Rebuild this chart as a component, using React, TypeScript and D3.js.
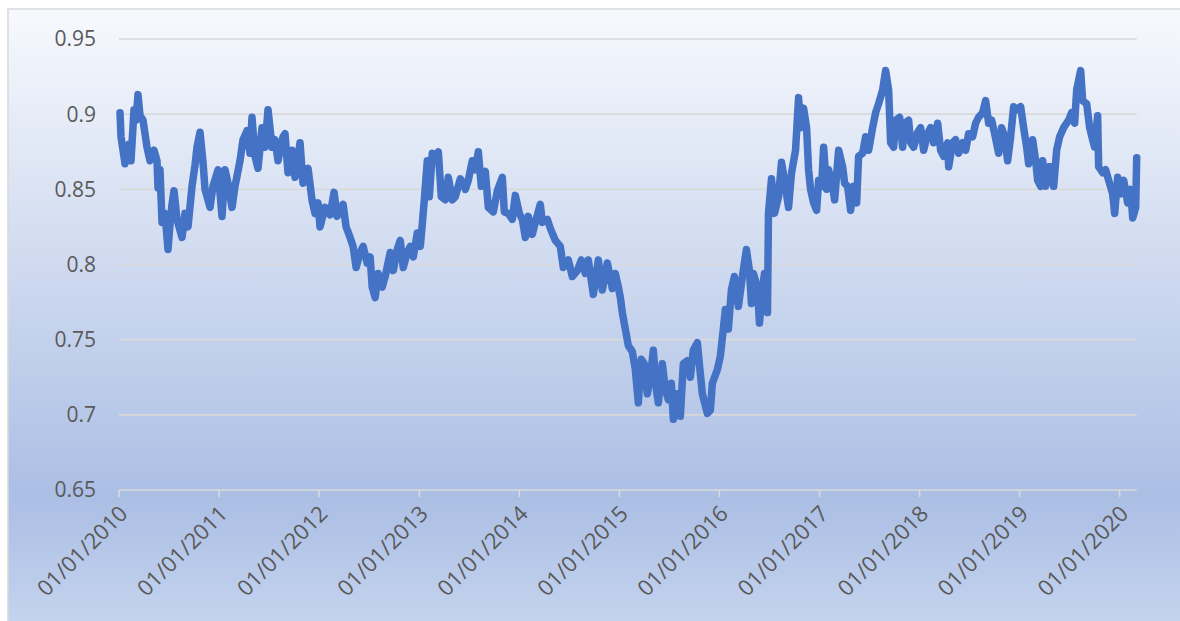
import React from "react";
import * as d3 from "d3";

// Observations: [decimal year, value]
const series: [number, number][] = [
  [2010.01, 0.901], [2010.02, 0.885], [2010.06, 0.867], [2010.1, 0.88], [2010.12, 0.869],
  [2010.15, 0.903], [2010.17, 0.896], [2010.19, 0.913], [2010.21, 0.899], [2010.24, 0.896],
  [2010.28, 0.878], [2010.31, 0.869], [2010.35, 0.876], [2010.38, 0.869], [2010.39, 0.851],
  [2010.41, 0.863], [2010.43, 0.828], [2010.46, 0.834], [2010.49, 0.81], [2010.51, 0.827],
  [2010.53, 0.84], [2010.55, 0.849], [2010.58, 0.83], [2010.63, 0.818], [2010.66, 0.834],
  [2010.69, 0.825], [2010.73, 0.852], [2010.76, 0.866], [2010.78, 0.878], [2010.81, 0.888],
  [2010.84, 0.868], [2010.86, 0.85], [2010.91, 0.838], [2010.94, 0.852], [2010.99, 0.863],
  [2011.03, 0.832], [2011.06, 0.863], [2011.09, 0.854], [2011.13, 0.838], [2011.16, 0.852],
  [2011.21, 0.869], [2011.24, 0.883], [2011.28, 0.889], [2011.31, 0.874], [2011.33, 0.898],
  [2011.36, 0.872], [2011.39, 0.864], [2011.43, 0.891], [2011.46, 0.878], [2011.49, 0.903],
  [2011.53, 0.878], [2011.56, 0.883], [2011.59, 0.869], [2011.64, 0.885], [2011.66, 0.887],
  [2011.69, 0.861], [2011.73, 0.876], [2011.76, 0.858], [2011.81, 0.881], [2011.84, 0.854],
  [2011.89, 0.864], [2011.93, 0.843], [2011.96, 0.834], [2011.99, 0.841], [2012.01, 0.825],
  [2012.06, 0.838], [2012.11, 0.833], [2012.15, 0.848], [2012.18, 0.832], [2012.21, 0.838],
  [2012.24, 0.84], [2012.27, 0.825], [2012.31, 0.818], [2012.34, 0.812], [2012.37, 0.798],
  [2012.41, 0.808], [2012.44, 0.812], [2012.48, 0.801], [2012.51, 0.805], [2012.53, 0.785],
  [2012.56, 0.778], [2012.59, 0.794], [2012.63, 0.785], [2012.66, 0.792], [2012.71, 0.808],
  [2012.74, 0.796], [2012.78, 0.81], [2012.81, 0.816], [2012.84, 0.798], [2012.88, 0.808],
  [2012.91, 0.812], [2012.94, 0.805], [2012.98, 0.821], [2013.01, 0.812], [2013.03, 0.827],
  [2013.05, 0.843], [2013.08, 0.869], [2013.1, 0.845], [2013.13, 0.874], [2013.16, 0.869],
  [2013.19, 0.875], [2013.22, 0.845], [2013.26, 0.843], [2013.29, 0.858], [2013.33, 0.843],
  [2013.36, 0.845], [2013.41, 0.857], [2013.44, 0.854], [2013.46, 0.85], [2013.49, 0.856],
  [2013.53, 0.869], [2013.56, 0.863], [2013.59, 0.875], [2013.62, 0.852], [2013.66, 0.862],
  [2013.69, 0.838], [2013.74, 0.835], [2013.78, 0.849], [2013.83, 0.858], [2013.85, 0.835],
  [2013.89, 0.834], [2013.93, 0.83], [2013.96, 0.846], [2014.0, 0.834], [2014.03, 0.83],
  [2014.06, 0.818], [2014.09, 0.832], [2014.13, 0.82], [2014.16, 0.828], [2014.21, 0.84],
  [2014.23, 0.828], [2014.28, 0.83], [2014.31, 0.824], [2014.36, 0.816], [2014.41, 0.812],
  [2014.44, 0.798], [2014.49, 0.803], [2014.53, 0.792], [2014.58, 0.796], [2014.62, 0.803],
  [2014.66, 0.794], [2014.69, 0.803], [2014.74, 0.78], [2014.79, 0.803], [2014.83, 0.783],
  [2014.88, 0.801], [2014.93, 0.784], [2014.96, 0.794], [2014.99, 0.785], [2015.01, 0.778],
  [2015.03, 0.768], [2015.06, 0.757], [2015.09, 0.746], [2015.13, 0.742], [2015.16, 0.73],
  [2015.19, 0.708], [2015.22, 0.737], [2015.25, 0.734], [2015.28, 0.714], [2015.31, 0.725],
  [2015.34, 0.743], [2015.37, 0.717], [2015.39, 0.708], [2015.43, 0.734], [2015.46, 0.717],
  [2015.49, 0.71], [2015.52, 0.721], [2015.54, 0.697], [2015.58, 0.714], [2015.61, 0.699],
  [2015.64, 0.734], [2015.68, 0.736], [2015.71, 0.725], [2015.74, 0.743], [2015.78, 0.748],
  [2015.8, 0.734], [2015.83, 0.714], [2015.88, 0.701], [2015.91, 0.703], [2015.93, 0.721],
  [2015.98, 0.73], [2016.01, 0.739], [2016.03, 0.751], [2016.06, 0.77], [2016.09, 0.757],
  [2016.12, 0.783], [2016.15, 0.792], [2016.19, 0.772], [2016.23, 0.792], [2016.27, 0.81],
  [2016.3, 0.796], [2016.32, 0.774], [2016.34, 0.794], [2016.38, 0.785], [2016.4, 0.761],
  [2016.43, 0.783], [2016.45, 0.794], [2016.48, 0.768], [2016.49, 0.834], [2016.52, 0.857],
  [2016.55, 0.834], [2016.59, 0.845], [2016.62, 0.868], [2016.65, 0.856], [2016.69, 0.838],
  [2016.72, 0.861], [2016.76, 0.876], [2016.79, 0.911], [2016.81, 0.891], [2016.84, 0.904],
  [2016.87, 0.891], [2016.89, 0.863], [2016.91, 0.85], [2016.94, 0.841], [2016.97, 0.836],
  [2016.99, 0.856], [2017.02, 0.852], [2017.04, 0.878], [2017.07, 0.85], [2017.09, 0.863],
  [2017.13, 0.852], [2017.15, 0.843], [2017.19, 0.876], [2017.23, 0.865], [2017.25, 0.854],
  [2017.28, 0.852], [2017.31, 0.836], [2017.34, 0.852], [2017.37, 0.841], [2017.39, 0.872],
  [2017.43, 0.874], [2017.46, 0.885], [2017.49, 0.876], [2017.53, 0.891], [2017.56, 0.901],
  [2017.59, 0.907], [2017.63, 0.916], [2017.66, 0.929], [2017.69, 0.916], [2017.71, 0.881],
  [2017.74, 0.878], [2017.76, 0.896], [2017.8, 0.898], [2017.83, 0.878], [2017.85, 0.894],
  [2017.89, 0.896], [2017.91, 0.881], [2017.94, 0.878], [2017.98, 0.888], [2018.01, 0.891],
  [2018.04, 0.876], [2018.08, 0.887], [2018.11, 0.891], [2018.14, 0.881], [2018.18, 0.894],
  [2018.21, 0.876], [2018.24, 0.872], [2018.28, 0.881], [2018.29, 0.865], [2018.33, 0.881],
  [2018.36, 0.883], [2018.39, 0.874], [2018.43, 0.881], [2018.46, 0.876], [2018.49, 0.887],
  [2018.53, 0.885], [2018.56, 0.894], [2018.59, 0.898], [2018.63, 0.901], [2018.66, 0.909],
  [2018.69, 0.894], [2018.72, 0.896], [2018.75, 0.887], [2018.79, 0.874], [2018.82, 0.891],
  [2018.85, 0.885], [2018.88, 0.869], [2018.91, 0.885], [2018.94, 0.905], [2018.98, 0.903],
  [2019.01, 0.905], [2019.04, 0.891], [2019.07, 0.878], [2019.09, 0.867], [2019.13, 0.883],
  [2019.16, 0.869], [2019.18, 0.856], [2019.21, 0.852], [2019.23, 0.869], [2019.26, 0.852],
  [2019.29, 0.865], [2019.32, 0.865], [2019.34, 0.852], [2019.37, 0.876], [2019.4, 0.885],
  [2019.44, 0.891], [2019.49, 0.896], [2019.52, 0.901], [2019.55, 0.894], [2019.57, 0.916],
  [2019.61, 0.929], [2019.63, 0.909], [2019.67, 0.907], [2019.7, 0.891], [2019.73, 0.883],
  [2019.75, 0.878], [2019.78, 0.899], [2019.79, 0.865], [2019.83, 0.861], [2019.86, 0.863],
  [2019.89, 0.856], [2019.93, 0.847], [2019.95, 0.834], [2019.98, 0.858], [2020.01, 0.847],
  [2020.04, 0.856], [2020.08, 0.841], [2020.11, 0.85], [2020.13, 0.831], [2020.16, 0.838],
  [2020.17, 0.871],
];

const yTicks = [0.65, 0.7, 0.75, 0.8, 0.85, 0.9, 0.95];
const yTickLabels = ["0.65", "0.7", "0.75", "0.8", "0.85", "0.9", "0.95"];
const xTickYears = [2010, 2011, 2012, 2013, 2014, 2015, 2016, 2017, 2018, 2019, 2020];

const toDate = (t: number) => {
  const y = Math.floor(t);
  const s = Date.UTC(y, 0, 1);
  const e = Date.UTC(y + 1, 0, 1);
  return new Date(s + (t - y) * (e - s));
};

export default function App() {
  const W = 1180;
  const H = 621;
  const left = 119;
  const right = 1136.7;
  const top = 39;
  const bottom = 490;

  const x = d3
    .scaleUtc()
    .domain([new Date(Date.UTC(2010, 0, 1)), toDate(series[series.length - 1][0])])
    .range([left, right]);
  const y = d3.scaleLinear().domain([0.65, 0.95]).range([bottom, top]);

  const line = d3
    .line<[number, number]>()
    .x((d) => x(toDate(d[0])))
    .y((d) => y(d[1]));

  const fmt = d3.utcFormat("%d/%m/%Y");
  const font = "'Open Sans', 'Noto Sans', sans-serif";

  return (
    <svg
      width={W}
      height={H}
      style={{ position: "absolute", left: 0, top: 0 }}
      xmlns="http://www.w3.org/2000/svg"
    >
      <defs>
        <linearGradient id="bg" x1="0" y1="0" x2="0" y2="1">
          <stop offset="0%" stopColor="#f7f9fd" />
          <stop offset="78%" stopColor="#abbee4" />
          <stop offset="100%" stopColor="#c6d5ef" />
        </linearGradient>
      </defs>
      <rect x={0} y={0} width={W} height={H} fill="#ffffff" />
      <rect x={8} y={9} width={1190} height={625} fill="url(#bg)" stroke="#d9d9d9" strokeWidth={1.5} />
      {yTicks.map((t, i) => (
        <g key={i}>
          <line x1={left} x2={right} y1={y(t)} y2={y(t)} stroke="#d9d9d9" strokeWidth={1.6} />
          <text
            x={96}
            y={y(t)}
            dy="0.35em"
            textAnchor="end"
            fontFamily={font}
            fontSize={21}
            fill="#595959"
          >
            {yTickLabels[i]}
          </text>
        </g>
      ))}
      {xTickYears.map((yr) => {
        const d = new Date(Date.UTC(yr, 0, 1));
        const px = x(d);
        return (
          <g key={yr}>
            <line x1={px} x2={px} y1={bottom} y2={bottom + 7} stroke="#d9d9d9" strokeWidth={1.6} />
            <text
              transform={`translate(${px + 10},${bottom + 25}) rotate(-45)`}
              textAnchor="end"
              fontFamily={font}
              fontSize={22}
              fill="#595959"
            >
              {fmt(d)}
            </text>
          </g>
        );
      })}
      <path
        d={line(series) || ""}
        fill="none"
        stroke="#4472c4"
        strokeWidth={7.5}
        strokeLinejoin="round"
        strokeLinecap="round"
      />
    </svg>
  );
}
